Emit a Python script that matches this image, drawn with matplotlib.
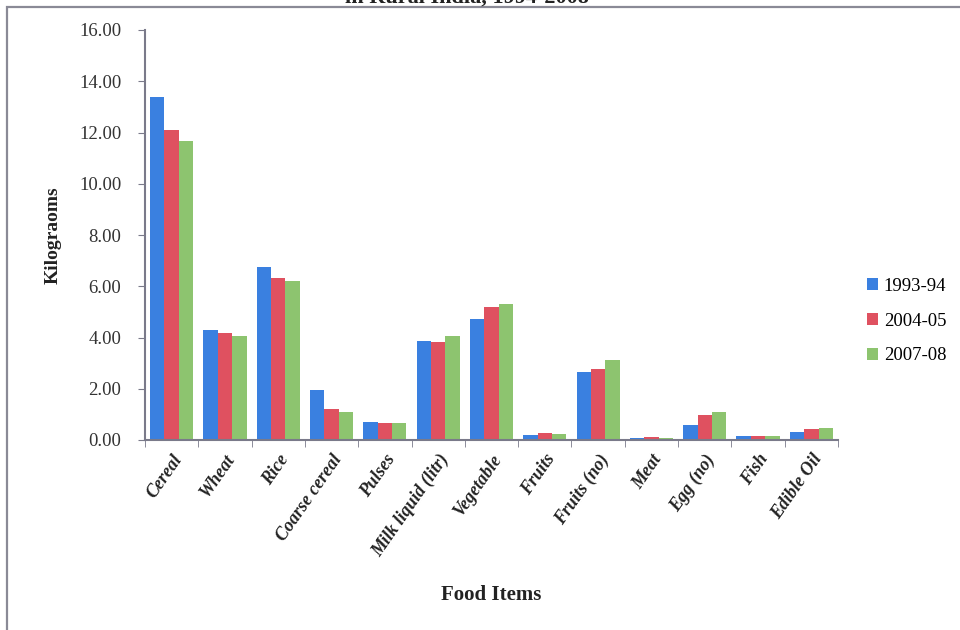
import matplotlib
matplotlib.use("Agg")
import matplotlib.pyplot as plt
import matplotlib.transforms as mtransforms
import numpy as np
from matplotlib.patches import Rectangle

plt.rcParams['font.family'] = ['Liberation Serif', 'DejaVu Serif']

categories = ["Cereal", "Wheat", "Rice", "Coarse cereal", "Pulses",
              "Milk liquid (litr)", "Vegetable", "Fruits", "Fruits (no)",
              "Meat", "Egg (no)", "Fish", "Edible Oil"]
# per-capita monthly consumption (kg) in three survey rounds
y1993 = [13.37, 4.30, 6.76, 1.94, 0.72, 3.88, 4.71, 0.19, 2.66, 0.09, 0.60, 0.14, 0.32]
y2004 = [12.08, 4.17, 6.34, 1.22, 0.68, 3.81, 5.20, 0.29, 2.79, 0.11, 0.98, 0.17, 0.44]
y2007 = [11.65, 4.05, 6.20, 1.11, 0.65, 4.06, 5.30, 0.25, 3.13, 0.09, 1.10, 0.17, 0.48]
series_labels = ["1993-94", "2004-05", "2007-08"]
colors = ["#3a80e0", "#df5160", "#8dc46f"]
yticks = [0, 2, 4, 6, 8, 10, 12, 14, 16]

fig = plt.figure(figsize=(9.6, 6.3), dpi=100)
fig.patch.set_facecolor("white")

# outer frame of the chart area (right/bottom edges fall outside the image)
fig.patches.append(Rectangle((7 / 960, -0.05), 1.0, 1 - 7 / 630 + 0.05,
                             transform=fig.transFigure, fill=False,
                             edgecolor="#8a8a96", linewidth=1.6))
# second title line, its upper part runs past the top edge
fig.text(467 / 960, 1 - 3 / 630, "in Rural India, 1994-2008",
         ha="center", va="baseline", fontsize=16, fontweight="bold", color="#222222")

ax = fig.add_axes([145 / 960, 1 - 440 / 630, (838 - 145) / 960, (440 - 30) / 630])
n = len(categories)
x = np.arange(n)
w = 0.27
for i, (vals, lab, c) in enumerate(zip([y1993, y2004, y2007], series_labels, colors)):
    ax.bar(x + (i - 1) * w, vals, width=w, color=c, label=lab, linewidth=0)

ax.set_xlim(-0.5, n - 0.5)
ax.set_ylim(0, 16)
ax.set_yticks(yticks)
ax.set_yticklabels([f"{v:.2f}" for v in yticks], fontsize=13.5, color="#333333")
ax.set_xticks(x)
ax.set_xticklabels(categories, rotation=55, ha="right", rotation_mode="anchor",
                   fontsize=13, fontstyle="italic", fontweight="bold", color="#222222")
shift = mtransforms.ScaledTranslation(-8 / 100, 0, fig.dpi_scale_trans)
for lbl in ax.get_xticklabels():
    lbl.set_transform(lbl.get_transform() + shift)
ax.set_xticks(np.arange(n + 1) - 0.5, minor=True)
ax.tick_params(axis="x", which="major", length=0, pad=8)
ax.tick_params(axis="x", which="minor", length=5, color="#7a7a8a", direction="out")
ax.tick_params(axis="y", length=5, color="#7a7a8a", direction="out", pad=12)

for s in ["top", "right"]:
    ax.spines[s].set_visible(False)
for s in ["left", "bottom"]:
    ax.spines[s].set_color("#7a7a8a")
    ax.spines[s].set_linewidth(1.5)

ax.set_ylabel("Kilograoms", fontsize=14, fontweight="bold", color="#222222")
ax.yaxis.set_label_coords((62 - 145) / 693, 0.5)
ax.set_xlabel("Food Items", fontsize=15, fontweight="bold", color="#222222")
ax.xaxis.set_label_coords(0.5, (440 - 585) / 410)

ax.legend(loc="center left", bbox_to_anchor=(850 / 960, 1 - 321 / 630),
          bbox_transform=fig.transFigure, frameon=False, fontsize=13.5,
          handlelength=0.6, handleheight=0.6, handletextpad=0.3, labelspacing=0.95)

fig.savefig("out.png", dpi=100, facecolor="white")
